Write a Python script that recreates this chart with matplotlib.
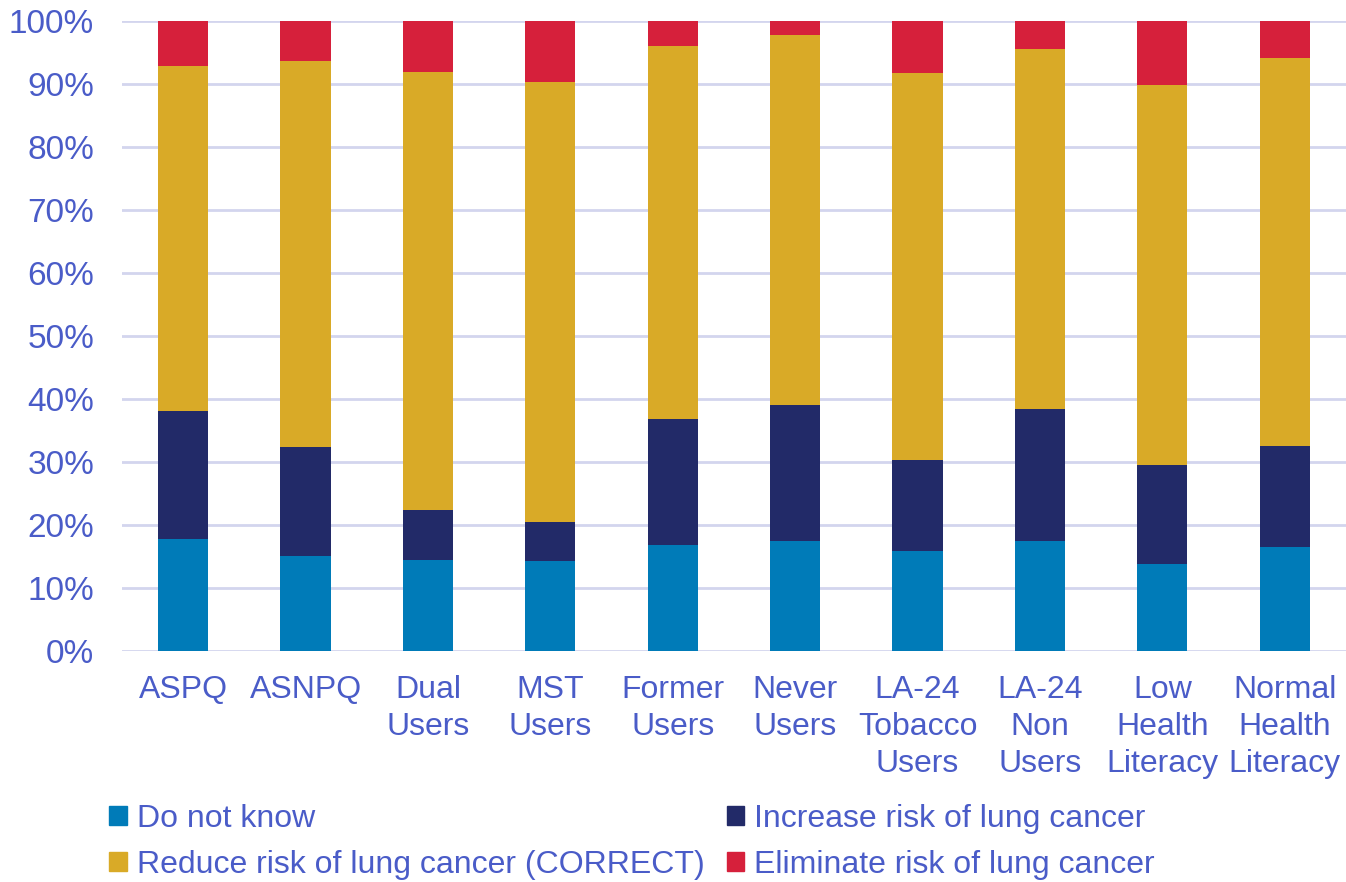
import numpy as np
import matplotlib.pyplot as plt
from matplotlib.patches import Patch

plt.rcParams['font.family'] = ['Liberation Sans', 'DejaVu Sans']

# groups along the x axis
groups = ["ASPQ", "ASNPQ", "Dual\nUsers", "MST\nUsers", "Former\nUsers", "Never\nUsers",
          "LA-24\nTobacco\nUsers", "LA-24\nNon\nUsers", "Low\nHealth\nLiteracy",
          "Normal\nHealth\nLiteracy"]

# percent of respondents per answer
do_not_know = [17.8, 15.1, 14.4, 14.3, 16.8, 17.5, 15.9, 17.5, 13.8, 16.5]
increase    = [20.3, 17.3, 8.0, 6.2, 20.0, 21.5, 14.4, 20.9, 15.7, 16.0]
reduce      = [54.8, 61.3, 69.5, 69.8, 59.2, 58.8, 61.4, 57.2, 60.3, 61.6]
eliminate   = [7.1, 6.3, 8.1, 9.7, 4.0, 2.2, 8.3, 4.4, 10.2, 5.9]

labels = ["Do not know", "Increase risk of lung cancer",
          "Reduce risk of lung cancer (CORRECT)", "Eliminate risk of lung cancer"]
colors = ["#007bb8", "#222a68", "#d9aa27", "#d6203b"]
txt = "#4a5cc8"

fig = plt.figure(figsize=(13.46, 8.82), dpi=100)
ax = fig.add_axes([0.0906, 0.2619, 0.9094, 0.7143])

x = np.arange(len(groups))
bottom = np.zeros(len(groups))
for vals, col in zip([do_not_know, increase, reduce, eliminate], colors):
    ax.bar(x, vals, 0.41, bottom=bottom, color=col, zorder=3)
    bottom += np.array(vals)

ax.set_ylim(0, 100)
ax.set_xlim(-0.5, len(groups) - 0.5)
ax.set_yticks(np.arange(0, 101, 10))
ax.set_yticklabels([f"{v}%" for v in range(0, 101, 10)])
ax.set_xticks(x)
ax.set_xticklabels(groups, linespacing=1.31)
ax.tick_params(axis='both', length=0, labelcolor=txt)
ax.tick_params(axis='x', pad=17, labelsize=23)
ax.tick_params(axis='y', pad=20, labelsize=24)
ax.grid(axis='y', color="#d3d5ee", linewidth=2, zorder=0)
for s in ax.spines.values():
    s.set_visible(False)

# legend fills row by row: first row Do not know / Increase
handles = [Patch(color=c, label=l) for c, l in zip(colors, labels)]
order = [0, 2, 1, 3]
fig.legend(handles=[handles[i] for i in order], loc='lower left',
           bbox_to_anchor=(0.0765, -0.005), borderpad=0.2, borderaxespad=0,
           ncol=2, frameon=False, fontsize=23, labelcolor=txt,
           handlelength=0.55, handleheight=0.55, handletextpad=0.3,
           columnspacing=0.7, labelspacing=0.5)

fig.savefig("out.png", dpi=100)
